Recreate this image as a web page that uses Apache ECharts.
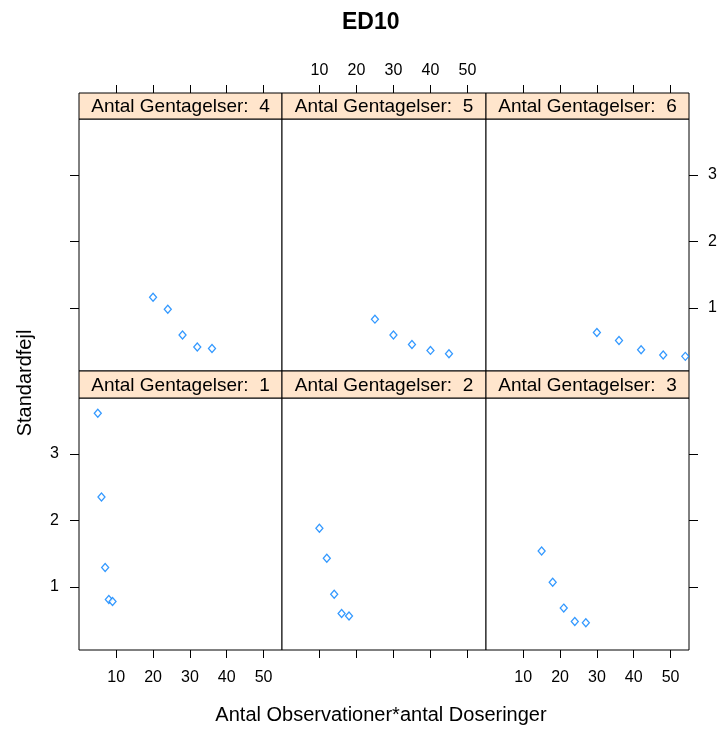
<!DOCTYPE html>
<html>
<head>
<meta charset="utf-8">
<script src="https://cdn.jsdelivr.net/npm/echarts@6/dist/echarts.min.js"></script>
<style>html,body{margin:0;padding:0;background:#fff}#c{width:722px;height:733px}</style>
</head>
<body>
<div id="c"></div>
<script>
// ---- data ----
const titleText = 'ED10';
const xLabel = 'Antal Observationer*antal Doseringer';
const yLabel = 'Standardfejl';
const stripPrefix = 'Antal Gentagelser:  ';
const gentagelser = [1, 2, 3, 4, 5, 6];
const xG1 = [5, 6, 7, 8, 9];
const yG1 = [3.61, 2.35, 1.29, 0.81, 0.78];
const xG2 = [10, 12, 14, 16, 18];
const yG2 = [1.88, 1.43, 0.89, 0.60, 0.56];
const xG3 = [15, 18, 21, 24, 27];
const yG3 = [1.54, 1.07, 0.68, 0.48, 0.46];
const xG4 = [20, 24, 28, 32, 36];
const yG4 = [1.16, 0.98, 0.59, 0.41, 0.39];
const xG5 = [25, 30, 35, 40, 45];
const yG5 = [0.83, 0.59, 0.45, 0.36, 0.31];
const xG6 = [30, 36, 42, 48, 54];
const yG6 = [0.63, 0.51, 0.37, 0.29, 0.27];
const xTicks = [10, 20, 30, 40, 50];
const yTicks = [1, 2, 3];

// ---- layout ----
const FONT = '"Liberation Sans", Arial, sans-serif';
const colLeft = [79, 282, 486];
const colWidth = [203, 204, 203];
const rowTop = { lower: 398, upper: 119 };
const plotH = 252;
const stripTop = { lower: 371, upper: 93 };
const stripH = { lower: 27, upper: 26 };
const xRange = [-0.1, 55];
const yRange = [0.05, 3.84];

const xs = [xG1, xG2, xG3, xG4, xG5, xG6];
const ysv = [yG1, yG2, yG3, yG4, yG5, yG6];

// panel config: row, col, x-axis side/labels, y-axis side/labels
const panels = [
  { row: 'lower', col: 0, xSide: 'bottom', xLab: true,  ySide: 'left',  yShow: true,  yLab: true },
  { row: 'lower', col: 1, xSide: 'bottom', xLab: false, ySide: 'left',  yShow: false, yLab: false },
  { row: 'lower', col: 2, xSide: 'bottom', xLab: true,  ySide: 'right', yShow: true,  yLab: false },
  { row: 'upper', col: 0, xSide: 'top',    xLab: false, ySide: 'left',  yShow: true,  yLab: false },
  { row: 'upper', col: 1, xSide: 'top',    xLab: true,  ySide: 'left',  yShow: false, yLab: false },
  { row: 'upper', col: 2, xSide: 'top',    xLab: false, ySide: 'right', yShow: true,  yLab: true }
];

const grid = [], xAxis = [], yAxis = [], series = [], graphic = [];
panels.forEach((p, i) => {
  grid.push({
    left: colLeft[p.col], top: rowTop[p.row], width: colWidth[p.col], height: plotH,
    show: true, borderColor: '#000', borderWidth: 1, backgroundColor: '#fff', containLabel: false
  });
  xAxis.push({
    gridIndex: i, type: 'value', min: xRange[0], max: xRange[1],
    position: p.xSide, offset: p.xSide === 'top' ? stripH.upper : 0,
    axisLine: { show: false, onZero: false },
    axisTick: { show: true, inside: false, length: 8, lineStyle: { color: '#000', width: 1 }, customValues: xTicks },
    axisLabel: { show: p.xLab, customValues: xTicks, color: '#000', fontSize: 16, fontFamily: FONT,
                 margin: p.xSide === 'top' ? 14 : 20 },
    splitLine: { show: false }
  });
  yAxis.push({
    gridIndex: i, type: 'value', min: yRange[0], max: yRange[1],
    position: p.ySide, show: p.yShow,
    axisLine: { show: false, onZero: false },
    axisTick: { show: p.yShow, inside: false, length: 9, lineStyle: { color: '#000', width: 1 }, customValues: yTicks },
    axisLabel: { show: p.yLab, customValues: yTicks, color: '#000', fontSize: 16, fontFamily: FONT,
                 margin: p.ySide === 'left' ? 20 : 19 },
    splitLine: { show: false }
  });
  series.push({
    type: 'scatter', xAxisIndex: i, yAxisIndex: i,
    data: xs[i].map((x, k) => [x, ysv[i][k]]),
    symbol: 'diamond', symbolSize: [7, 8],
    itemStyle: { color: '#fff', borderColor: '#0080ff', borderWidth: 1.3 },
    silent: true, animation: false
  });
  graphic.push({
    type: 'rect', z: 100,
    shape: { x: colLeft[p.col], y: stripTop[p.row], width: colWidth[p.col], height: stripH[p.row] },
    style: { fill: '#ffe5cc', stroke: '#000', lineWidth: 1 }
  });
  graphic.push({
    type: 'text', z: 101,
    x: colLeft[p.col] + colWidth[p.col] / 2, y: stripTop[p.row] + stripH[p.row] / 2 + 1,
    style: { text: stripPrefix + gentagelser[i], fill: '#000', font: '19px ' + FONT,
             align: 'center', verticalAlign: 'middle' }
  });
});

graphic.push({
  type: 'text', x: 381, y: 715,
  style: { text: xLabel, fill: '#000', font: '20px ' + FONT, align: 'center', verticalAlign: 'middle' }
});
graphic.push({
  type: 'text', x: 25, y: 383, rotation: Math.PI / 2,
  style: { text: yLabel, fill: '#000', font: '20px ' + FONT, align: 'center', verticalAlign: 'middle' }
});

const chart = echarts.init(document.getElementById('c'), null, { renderer: 'canvas' });
chart.setOption({
  animation: false,
  backgroundColor: '#fff',
  title: {
    text: titleText, left: 337, top: 6,
    textStyle: { fontFamily: FONT, fontSize: 23, fontWeight: 'bold', color: '#000' }
  },
  grid, xAxis, yAxis, series, graphic
});
</script>
</body>
</html>
